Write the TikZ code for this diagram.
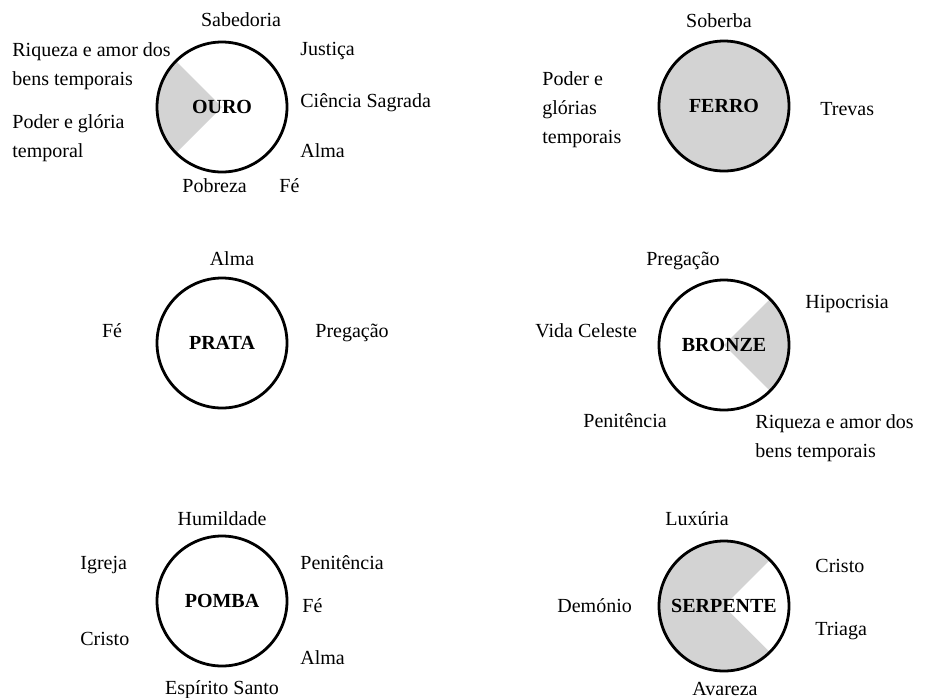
\documentclass[tikz,border=0pt]{standalone}
\usepackage{fontspec}
\setmainfont{Liberation Serif}
\usepackage{tikz}
\definecolor{cinza}{HTML}{D3D3D3}
\tikzset{
	metal/.style={circle, draw=black, line width=1.4pt, minimum size=65pt, inner sep=0pt, font=\fontsize{10}{12}\selectfont\bfseries},
	rotulo/.style={inner sep=0pt, font=\fontsize{10}{14.5}\selectfont},
	esq/.style={rotulo, anchor=base west, align=left},
	meio/.style={rotulo, anchor=base}
}
\begin{document}
\begin{tikzpicture}[x=0.5pt, y=-0.5pt]
	\useasboundingbox (0,0) rectangle (930,697);
	
	% ouro
	\coordinate (cOuro) at (222,107);
	\fill[cinza] (cOuro) -- ++(135:65) arc[start angle=135, end angle=225, radius=65] -- cycle;
	\node[metal] (ouro) at (cOuro) {OURO};
	\node[meio] (ouroSabedoria) at (241,26) {Sabedoria};
	\node[esq] (ouroRiqueza) at (12,85) {Riqueza e amor dos\\bens temporais};
	\node[esq] (ouroPoder) at (12,157) {Poder e glória\\temporal};
	\node[esq] (ouroJustica) at (300,55) {Justiça};
	\node[esq] (ouroCiencia) at (300,107) {Ciência Sagrada};
	\node[esq] (ouroAlma) at (300,157) {Alma};
	\node[esq] (ouroPobreza) at (182,192) {Pobreza};
	\node[esq] (ouroFe) at (279,192) {Fé};
	
	% ferro
	\node[metal, fill=cinza] (ferro) at (724,106) {FERRO};
	\node[meio] (ferroSoberba) at (719,27) {Soberba};
	\node[esq] (ferroPoder) at (542,143) {Poder e\\glórias\\temporais};
	\node[esq] (ferroTrevas) at (820,115) {Trevas};
	
	% prata
	\node[metal] (prata) at (222,343) {PRATA};
	\node[meio] (prataAlma) at (232,265) {Alma};
	\node[meio] (prataFe) at (112,337) {Fé};
	\node[esq] (prataPregacao) at (315,337) {Pregação};
	
	% bronze
	\coordinate (cBronze) at (724,345);
	\fill[cinza] (cBronze) -- ++(-45:65) arc[start angle=-45, end angle=45, radius=65] -- cycle;
	\node[metal] (bronze) at (cBronze) {BRONZE};
	\node[meio] (bronzePregacao) at (683,265) {Pregação};
	\node[esq] (bronzeHipocrisia) at (805,308) {Hipocrisia};
	\node[esq] (bronzeVida) at (535,337) {Vida Celeste};
	\node[esq] (bronzePenitencia) at (583,427) {Penitência};
	\node[esq] (bronzeRiqueza) at (755,457) {Riqueza e amor dos\\bens temporais};
	
	% pomba
	\node[metal] (pomba) at (222,601) {POMBA};
	\node[meio] (pombaHumildade) at (222,525) {Humildade};
	\node[esq] (pombaIgreja) at (80,569) {Igreja};
	\node[esq] (pombaPenitencia) at (300,569) {Penitência};
	\node[esq] (pombaFe) at (302,612) {Fé};
	\node[esq] (pombaCristo) at (80,645) {Cristo};
	\node[esq] (pombaAlma) at (300,664) {Alma};
	\node[meio] (pombaEspirito) at (222,694) {Espírito Santo};
	
	% serpente
	\coordinate (cSerpente) at (724,606);
	\fill[cinza] (cSerpente) circle[radius=65];
	\fill[white] (cSerpente) -- ++(-45:65) arc[start angle=-45, end angle=45, radius=65] -- cycle;
	\node[metal] (serpente) at (cSerpente) {SERPENTE};
	\node[meio] (serpenteLuxuria) at (697,525) {Luxúria};
	\node[esq] (serpenteCristo) at (815,572) {Cristo};
	\node[esq] (serpenteDemonio) at (557,612) {Demónio};
	\node[esq] (serpenteTriaga) at (815,635) {Triaga};
	\node[meio] (serpenteAvareza) at (725,695) {Avareza};
\end{tikzpicture}
\end{document}
